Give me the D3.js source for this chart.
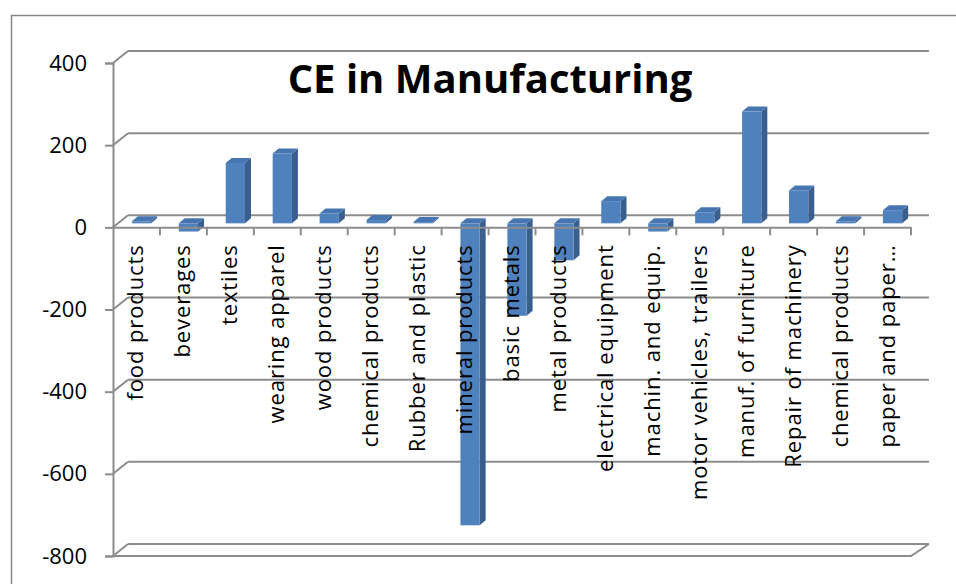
<!DOCTYPE html>
<html>
<head>
<meta charset="utf-8">
<script src="https://cdn.jsdelivr.net/npm/d3@7"></script>
<style>
  body { margin: 0; background: #fff; }
  svg { display: block; }
  text { font-family: "Open Sans", sans-serif; fill: #000; }
</style>
</head>
<body>
<div id="chart"></div>
<script>
var categories = ["food products", "beverages", "textiles", "wearing apparel", "wood products",
  "chemical products", "Rubber and plastic", "mineral products", "basic metals", "metal products",
  "electrical equipment", "machin. and equip.", "motor vehicles, trailers", "manuf. of furniture",
  "Repair of machinery", "chemical products ", "paper and paper\u2026"]
var values = [5, -20, 147, 170, 24, 8, 3, -735, -225, -90, 54, -20, 27, 272, 80, 5, 32]
var yTicks = [400, 200, 0, -200, -400, -600, -800]
var title = "CE in Manufacturing"

var width = 956, height = 584
var plotLeft = 113, plotRight = 911, plotTop = 63, plotBottom = 556
var depthX = 15, depthY = -12   // back wall offset
var barOffX = 5, barOffY = -4   // bar front plane
var barDX = 6, barDY = -5       // bar depth

var svg = d3.select("#chart").append("svg")
  .attr("width", width).attr("height", height)

// outer frame
svg.append("rect")
  .attr("x", 11.5).attr("y", 15.5)
  .attr("width", 1000).attr("height", 1000)
  .attr("fill", "none").attr("stroke", "#868686").attr("stroke-width", 1.5)

var x = d3.scaleBand().domain(categories).range([plotLeft, plotRight]).padding(0)
var y = d3.scaleLinear().domain([-800, 400]).range([plotBottom, plotTop])
var barW = x.bandwidth() * 0.41

var grid = "#8c8c8c"

// back wall gridlines + left wall diagonals
yTicks.forEach(function(t) {
  var yy = y(t)
  svg.append("line")
    .attr("x1", plotLeft + depthX).attr("x2", plotRight + depthX + 3)
    .attr("y1", yy + depthY).attr("y2", yy + depthY)
    .attr("stroke", grid).attr("stroke-width", 2)
  svg.append("line")
    .attr("x1", plotLeft).attr("x2", plotLeft + depthX)
    .attr("y1", yy).attr("y2", yy + depthY)
    .attr("stroke", grid).attr("stroke-width", 2)
})

// floor front edge and right diagonal
svg.append("path")
  .attr("d", "M" + plotLeft + "," + plotBottom + "H" + plotRight + "L" + (plotRight + depthX + 3) + "," + (plotBottom + depthY))
  .attr("fill", "none").attr("stroke", grid).attr("stroke-width", 2)

// bars
var bars = svg.append("g").selectAll("g")
  .data(categories.map(function(c, i) { return { name: c, value: values[i] } }))
  .enter().append("g")

function fx(d) { return x(d.name) + x.bandwidth() / 2 - barW / 2 + barOffX }
function fTop(d) { return y(Math.max(0, d.value)) + barOffY }
function fBot(d) { return y(Math.min(0, d.value)) + barOffY }

// side face
bars.append("path")
  .attr("d", function(d) {
    var x1 = fx(d) + barW
    return "M" + x1 + "," + fTop(d) + "l" + barDX + "," + barDY +
      "V" + (fBot(d) + barDY) + "l" + (-barDX) + "," + (-barDY) + "Z"
  })
  .attr("fill", "#3a5f8d")
// top face
bars.append("path")
  .attr("d", function(d) {
    var x0 = fx(d), t = fTop(d)
    return "M" + x0 + "," + t + "l" + barDX + "," + barDY + "h" + barW +
      "l" + (-barDX) + "," + (-barDY) + "Z"
  })
  .attr("fill", "#4675b0")
// front face
bars.append("rect")
  .attr("x", fx)
  .attr("y", fTop)
  .attr("width", barW)
  .attr("height", function(d) { return Math.max(0.5, fBot(d) - fTop(d)) })
  .attr("fill", "#4f81bd")

// y axis (front)
var yAxis = svg.append("g")
  .attr("transform", "translate(" + plotLeft + ",0)")
  .call(d3.axisLeft(y).tickValues(yTicks).tickSize(8).tickPadding(18).tickFormat(String))
yAxis.select(".domain").attr("stroke", grid).attr("stroke-width", 2)
yAxis.selectAll(".tick line").attr("stroke", grid).attr("stroke-width", 2)
yAxis.selectAll(".tick text")
  .style("font-family", "Open Sans, sans-serif")
  .style("font-size", "22px").attr("fill", "#000")

// category axis at zero
var xAxis = svg.append("g")
  .attr("transform", "translate(0," + y(0) + ")")
  .call(d3.axisBottom(x).tickSizeOuter(0).tickSizeInner(0).tickFormat(""))
xAxis.select(".domain").attr("stroke", grid).attr("stroke-width", 2)

// category ticks on boundaries
svg.append("g").selectAll("line")
  .data(categories)
  .enter().append("line")
  .attr("x1", function(d) { return x(d) + x.bandwidth() })
  .attr("x2", function(d) { return x(d) + x.bandwidth() })
  .attr("y1", y(0)).attr("y2", y(0) + 8)
  .attr("stroke", grid).attr("stroke-width", 2)

// category labels
svg.append("g").selectAll("text")
  .data(categories)
  .enter().append("text")
  .attr("transform", function(d) {
    return "translate(" + (x(d) + x.bandwidth() / 2 + 7) + "," + (y(0) + 17) + ") rotate(-90)"
  })
  .attr("text-anchor", "end")
  .style("font-size", "22px")
  .style("letter-spacing", "0.9px")
  .text(function(d) { return d.trim() })

// title
svg.append("text")
  .attr("x", 490).attr("y", 93)
  .attr("text-anchor", "middle")
  .style("font-size", "40px").style("font-weight", "bold")
  .text(title)
</script>
</body>
</html>
